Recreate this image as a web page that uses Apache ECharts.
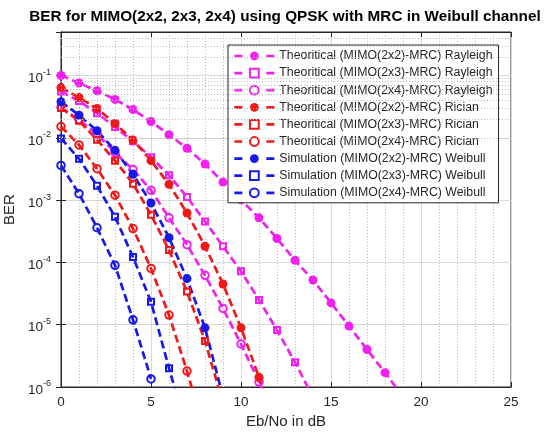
<!DOCTYPE html>
<html><head><meta charset="utf-8">
<script src="https://cdn.jsdelivr.net/npm/echarts@6/dist/echarts.min.js"></script>
<style>html,body{margin:0;padding:0;background:#fff}#c{width:548px;height:432px}</style>
</head><body><div id="c"></div>
<script>
// Eb/No (dB) sample points
const EBNO = [0,1,2,3,4,5,6,7,8,9,10,11,12,13,14,15,16,17,18,19];
// BER values
const RAYLEIGH_2X2 = [0.1,0.0758,0.0569,0.0414,0.0285,0.0183,0.0112,0.0068,0.0038,0.00195,0.00101,5.2e-4,2.42e-4,1.08e-4,5.2e-5,2.24e-5,9.5e-6,4.0e-6,1.7e-6,7e-7];
const RAYLEIGH_2X3 = [0.0554,0.0389,0.0249,0.0149,0.0088,0.0049,0.0025,0.00112,4.55e-4,1.82e-4,7.2e-5,2.5e-5,8.2e-6,2.5e-6,6.8e-7];
const RAYLEIGH_2X4 = [0.031,0.0195,0.0115,0.0058,0.0031,0.00144,5.2e-4,1.93e-4,6.2e-5,1.82e-5,4.9e-6,1.2e-6,2.7e-7];
const RICIAN_2X2 = [0.064,0.0444,0.0296,0.017,0.0092,0.0043,0.00179,6.2e-4,1.82e-4,4.5e-5,8.9e-6,1.43e-6,1.8e-7];
const RICIAN_2X3 = [0.030,0.0188,0.0093,0.0043,0.00184,5.8e-4,1.58e-4,3.4e-5,5.5e-6,5.5e-7];
const RICIAN_2X4 = [0.0152,0.0077,0.0032,0.0012,3.5e-4,8.0e-5,1.43e-5,1.8e-6,1.8e-7];
const WEIBULL_2X2 = [0.038,0.0231,0.013,0.0063,0.0026,9.0e-4,2.5e-4,5.5e-5,8.9e-6,7e-7];
const WEIBULL_2X3 = [0.0098,0.0046,0.0017,5.4e-4,1.22e-4,2.33e-5,2.0e-6,2e-7];
const WEIBULL_2X4 = [0.0036,0.00127,3.6e-4,9e-5,1.2e-5,1.35e-6];

const SERIES_NAMES = [
  'Theoritical (MIMO(2x2)-MRC) Rayleigh',
  'Theoritical (MIMO(2x3)-MRC) Rayleigh',
  'Theoritical (MIMO(2x4)-MRC) Rayleigh',
  'Theoritical (MIMO(2x2)-MRC) Rician',
  'Theoritical (MIMO(2x3)-MRC) Rician',
  'Theoritical (MIMO(2x4)-MRC) Rician',
  'Simulation (MIMO(2x2)-MRC) Weibull',
  'Simulation (MIMO(2x3)-MRC) Weibull',
  'Simulation (MIMO(2x4)-MRC) Weibull'
];
const X_TICKS = [0,5,10,15,20,25];
const Y_MIN = 1e-6, Y_MAX = 0.5;

const FONT = '"Liberation Sans", Arial, Helvetica, sans-serif';
const MAG = '#f020f0', RED = '#f01818', BLU = '#1818e8';
const INK = '#262626';

// minor log grid lines (2..9 x 10^k)
const MINOR_Y = [];
for (let e = -6; e <= -1; e++) for (let m = 2; m <= 9; m++) { const v = m * Math.pow(10, e); if (v < Y_MAX) MINOR_Y.push(v); }

function mk(name, vals, color, kind) {
  const filled = kind === 'filled';
  return {
    name: name, type: 'line',
    data: vals.map((v, i) => [EBNO[i], v]),
    symbol: kind === 'square' ? 'rect' : 'circle',
    symbolSize: filled ? 9 : (kind === 'square' ? 6 : 7.5),
    lineStyle: { color: color, width: 2.7, type: [8, 4] },
    itemStyle: filled ? { color: color, borderWidth: 0 } : { color: 'rgba(255,255,255,0)', borderColor: color, borderWidth: 2 },
    emphasis: { disabled: true },
    clip: true, z: 3, animation: false
  };
}

const series = [
  { name: 'minor', type: 'line', data: [], z: 1, silent: true,
    markLine: { silent: true, symbol: ['none', 'none'], label: { show: false }, animation: false,
      lineStyle: { type: [1, 2], color: '#bcbcbc', width: 1 },
      data: MINOR_Y.map(v => ({ yAxis: v })) } },
  mk(SERIES_NAMES[0], RAYLEIGH_2X2, MAG, 'filled'),
  mk(SERIES_NAMES[1], RAYLEIGH_2X3, MAG, 'square'),
  mk(SERIES_NAMES[2], RAYLEIGH_2X4, MAG, 'circle'),
  mk(SERIES_NAMES[3], RICIAN_2X2, RED, 'filled'),
  mk(SERIES_NAMES[4], RICIAN_2X3, RED, 'square'),
  mk(SERIES_NAMES[5], RICIAN_2X4, RED, 'circle'),
  mk(SERIES_NAMES[6], WEIBULL_2X2, BLU, 'filled'),
  mk(SERIES_NAMES[7], WEIBULL_2X3, BLU, 'square'),
  mk(SERIES_NAMES[8], WEIBULL_2X4, BLU, 'circle')
];

function logLabel(v) {
  const e = Math.round(Math.log10(v));
  if (Math.abs(Math.log10(v) - e) > 1e-6) return '';
  return '{b|10}{s|' + e + '}';
}

const chart = echarts.init(document.getElementById('c'), null, { renderer: 'canvas' });
chart.setOption({
  animation: false,
  backgroundColor: '#fff',
  textStyle: { fontFamily: FONT },
  title: {
    text: 'BER for MIMO(2x2, 2x3, 2x4) using QPSK with MRC in Weibull channel',
    left: 280, top: 4, textAlign: 'center',
    textStyle: { fontFamily: FONT, fontSize: 15.3, fontWeight: 'bold', color: '#000' }
  },
  grid: { left: 61, right: 37, top: 32, bottom: 45, show: true, borderColor: INK, borderWidth: 1, backgroundColor: '#fff', outerBoundsMode: 'none' },
  legend: {
    orient: 'vertical', left: 228, top: 45, padding: [5, 6, 4, 5],
    itemWidth: 40, itemHeight: 11, itemGap: 5.1,
    backgroundColor: '#fff', borderColor: INK, borderWidth: 1, borderRadius: 0,
    textStyle: { fontFamily: FONT, fontSize: 12.3, lineHeight: 12, color: INK },
    lineStyle: { type: [8, 24], width: 2.7 },
    selectedMode: false,
    data: SERIES_NAMES
  },
  xAxis: [{
    type: 'value', min: X_TICKS[0], max: X_TICKS[X_TICKS.length - 1], interval: 5,
    name: 'Eb/No in dB', nameLocation: 'middle', nameGap: 25,
    nameTextStyle: { fontFamily: FONT, fontSize: 15, color: INK },
    axisLine: { show: true, lineStyle: { color: INK } },
    axisTick: { show: true, inside: true, length: 5, lineStyle: { color: INK } },
    axisLabel: { fontFamily: FONT, fontSize: 13.5, color: INK, margin: 8 },
    splitLine: { show: true, lineStyle: { color: '#d9d9d9', width: 1 } },
    minorTick: { show: false, splitNumber: 5 },
    minorSplitLine: { show: true, lineStyle: { color: '#bcbcbc', type: [1, 2], width: 1 } }
  }, {
    type: 'value', min: X_TICKS[0], max: X_TICKS[X_TICKS.length - 1], interval: 5, position: 'top',
    axisLine: { show: true, lineStyle: { color: INK } },
    axisTick: { show: true, inside: true, length: 5, lineStyle: { color: INK } },
    axisLabel: { show: false }, splitLine: { show: false }
  }],
  yAxis: [{
    type: 'log', logBase: 10, min: Y_MIN, max: Y_MAX,
    name: 'BER', nameLocation: 'middle', nameGap: 35,
    nameTextStyle: { fontFamily: FONT, fontSize: 15, color: INK },
    axisLine: { show: true, lineStyle: { color: INK } },
    axisTick: { show: true, inside: true, length: 5, lineStyle: { color: INK } },
    axisLabel: {
      formatter: logLabel, margin: 10, color: INK,
      rich: {
        b: { fontFamily: FONT, fontSize: 13.5, lineHeight: 14, color: INK, padding: [6, 0, 0, 0] },
        s: { fontFamily: FONT, fontSize: 9, lineHeight: 14, color: INK, padding: [0, 0, 6, 0] }
      }
    },
    splitLine: { show: true, lineStyle: { color: '#d9d9d9', width: 1 } }
  }, {
    type: 'log', logBase: 10, min: Y_MIN, max: Y_MAX, position: 'right',
    axisLine: { show: true, lineStyle: { color: INK } },
    axisTick: { show: true, inside: true, length: 5, lineStyle: { color: INK } },
    axisLabel: { show: false }, splitLine: { show: false }
  }],
  series: series
});
</script>
</body></html>
